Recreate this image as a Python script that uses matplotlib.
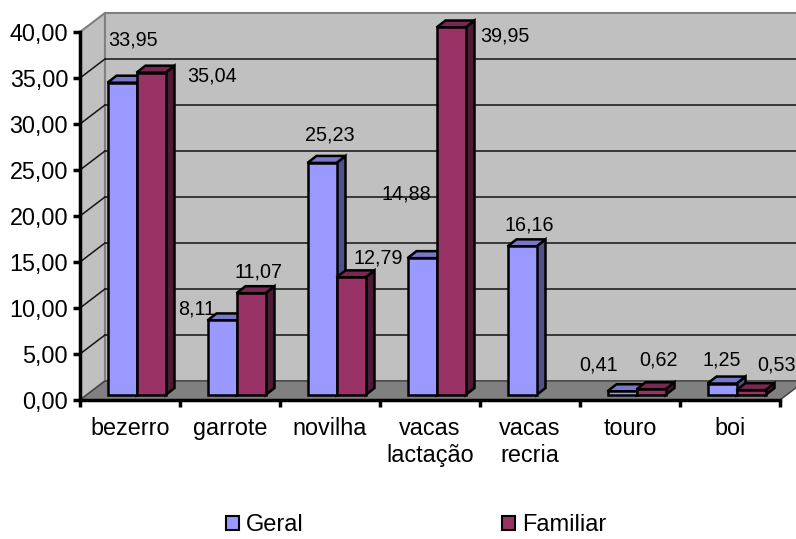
import numpy as np
import matplotlib
matplotlib.use('Agg')
import matplotlib.pyplot as plt
from matplotlib.patches import Polygon, Patch

plt.rcParams['font.family'] = ['Liberation Sans', 'DejaVu Sans']

categorias = ['bezerro', 'garrote', 'novilha', 'vacas\nlactação', 'vacas\nrecria', 'touro', 'boi']
geral = [33.95, 8.11, 25.23, 14.88, 16.16, 0.41, 1.25]
familiar = [35.04, 11.07, 12.79, 39.95, np.nan, 0.62, 0.53]
valores_y = [0, 5, 10, 15, 20, 25, 30, 35, 40]
rotulos_y = ['0,00', '5,00', '10,00', '15,00', '20,00', '25,00', '30,00', '35,00', '40,00']

# posição dos rótulos de valor em pixels, a partir do topo de cada barra (x, y para baixo)
desl_geral = [(11, -43), (-25, -11), (8, -28), (-16, -64), (7, -21), (-23, -26), (0, -24)]
desl_familiar = [(61, 3), (7, -21), (27, -19), (54, 9), None, (8, -29), (26, -25)]

cor_geral = ('#9999FF', '#7878C8', '#50508A')      # frente, topo, lado
cor_familiar = ('#993366', '#7A2852', '#4F1A35')

# perspectiva: profundidade da parede (em categorias / em unidades de valor)
px, py = 0.25, 2.07
# plano frontal das barras e profundidade das barras
bx, by = 0.065, 0.54
dx, dy = 0.09, 0.76
larg = 0.29

fig = plt.figure(figsize=(7.96, 5.39), dpi=100)
ax = fig.add_axes([80 / 796, 139 / 539, 700 / 796, 368 / 539])
ax.patch.set_visible(False)
ax.set_xlim(0, 7)
ax.set_ylim(0, 40)

# paredes e piso
ax.add_patch(Polygon([(0, 0), (px, py), (px, 40 + py), (0, 40)], closed=True,
                     fc='#C0C0C0', ec='#808080', lw=1.5, clip_on=False, zorder=0))
ax.add_patch(Polygon([(px, py), (7 + px, py), (7 + px, 40 + py), (px, 40 + py)], closed=True,
                     fc='#C0C0C0', ec='#808080', lw=1.5, clip_on=False, zorder=0))
ax.add_patch(Polygon([(0, 0), (7, 0), (7 + px, py), (px, py)], closed=True,
                     fc='#808080', ec='#404040', lw=1, clip_on=False, zorder=1))
for v in valores_y[1:-1]:
    ax.plot([px, 7 + px], [v + py, v + py], color='#151515', lw=1.1, clip_on=False, zorder=0.5)
    ax.plot([0, px], [v, v + py], color='#151515', lw=1.1, clip_on=False, zorder=0.5)


def barra(x0, v, cores):
    y0 = by
    y1 = by + v
    x1 = x0 + larg
    frente = [(x0, y0), (x1, y0), (x1, y1), (x0, y1)]
    topo = [(x0, y1), (x1, y1), (x1 + dx, y1 + dy), (x0 + dx, y1 + dy)]
    lado = [(x1, y0), (x1 + dx, y0 + dy), (x1 + dx, y1 + dy), (x1, y1)]
    for pts, c in ((lado, cores[2]), (topo, cores[1]), (frente, cores[0])):
        ax.add_patch(Polygon(pts, closed=True, fc=c, ec='black', lw=1.8,
                             joinstyle='miter', clip_on=False, zorder=3))


for i in range(len(categorias)):
    xg = i + bx + 0.21
    xf = xg + larg
    barra(xg, geral[i], cor_geral)
    if not np.isnan(familiar[i]):
        barra(xf, familiar[i], cor_familiar)

    rg = f'{geral[i]:.2f}'.replace('.', ',')
    ax.annotate(rg, (xg + larg / 2, geral[i] + by), xytext=(desl_geral[i][0], -desl_geral[i][1]),
                textcoords='offset pixels', ha='center', va='center', fontsize=14.2,
                annotation_clip=False, zorder=5)
    if desl_familiar[i] is not None:
        rf = f'{familiar[i]:.2f}'.replace('.', ',')
        ax.annotate(rf, (xf + larg / 2, familiar[i] + by),
                    xytext=(desl_familiar[i][0], -desl_familiar[i][1]),
                    textcoords='offset pixels', ha='center', va='center', fontsize=14.2,
                    annotation_clip=False, zorder=5)

for s in ('top', 'right'):
    ax.spines[s].set_visible(False)
for s in ('left', 'bottom'):
    ax.spines[s].set_linewidth(2.5)
    ax.spines[s].set_zorder(4)

ax.set_yticks(valores_y)
ax.set_yticklabels(rotulos_y)
ax.tick_params(axis='y', length=5, width=2.5, pad=3.5, labelsize=16.8)

ax.set_xticks(np.arange(0, 8))
ax.set_xticklabels([])
ax.set_xticks(np.arange(len(categorias)) + 0.5, minor=True)
ax.set_xticklabels(categorias, minor=True)
ax.tick_params(axis='x', which='major', length=5, width=2.5)
ax.tick_params(axis='x', which='minor', length=0, pad=12.5, labelsize=16.8)

fig.legend(handles=[Patch(fc=cor_geral[0], ec='black', lw=1.5, label='Geral'),
                    Patch(fc=cor_familiar[0], ec='black', lw=1.5, label='Familiar')],
           loc='center', bbox_to_anchor=(0.523, 14 / 539), ncol=2, frameon=False,
           handlelength=0.55, handleheight=0.55, handletextpad=0.3, columnspacing=8.4,
           fontsize=17, borderpad=0)

fig.savefig('out.png', dpi=100)
